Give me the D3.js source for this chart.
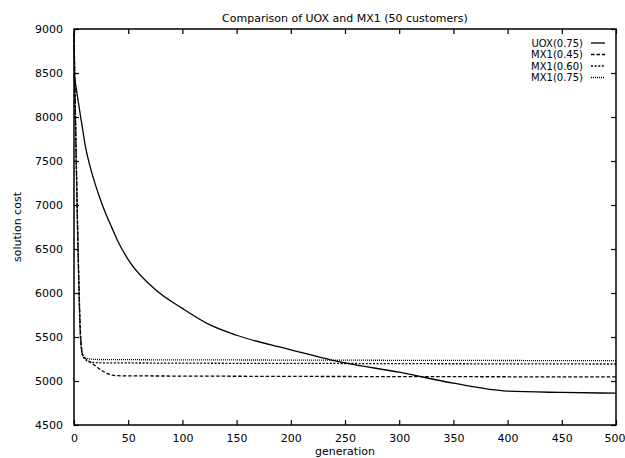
<!DOCTYPE html>
<html>
<head>
<meta charset="utf-8">
<script src="https://cdn.jsdelivr.net/npm/d3@7"></script>
<style>
	body { margin: 0; background: #fff; }
	text { font-family: "DejaVu Sans", sans-serif; font-size: 11px; fill: #000; }
</style>
</head>
<body>
<script>
	var generations = [0, 2, 4, 6, 8, 10, 15, 20, 25, 30, 35, 40, 50, 75, 100, 125, 150, 200, 250, 300, 350, 400, 450, 500];

	var uox075 = [8480, 8330, 8170, 8010, 7860, 7700, 7430, 7220, 7040, 6880, 6740, 6600, 6380, 6040, 5825, 5640, 5520, 5355, 5205, 5100, 4975, 4885, 4870, 4862];
	var mx1045 = [8950, 7600, 6400, 5550, 5300, 5262, 5215, 5170, 5125, 5090, 5068, 5060, 5058, 5057, 5056, 5055, 5054, 5052, 5051, 5050, 5049, 5048, 5047, 5047];
	var mx1060 = [8950, 7550, 6350, 5500, 5290, 5250, 5215, 5208, 5206, 5205, 5205, 5205, 5205, 5204, 5203, 5202, 5201, 5200, 5199, 5197, 5196, 5195, 5194, 5193];
	var mx1075 = [8950, 7500, 6300, 5480, 5290, 5262, 5250, 5245, 5244, 5243, 5243, 5242, 5242, 5241, 5240, 5240, 5239, 5238, 5237, 5235, 5234, 5233, 5232, 5232];

	var seriesNames = ["UOX(0.75)", "MX1(0.45)", "MX1(0.60)", "MX1(0.75)"];
	var seriesValues = [uox075, mx1045, mx1060, mx1075];
	var dashes = [null, "3.5,2", "2,1.6", "1,1"];

	var xTicks = [0, 50, 100, 150, 200, 250, 300, 350, 400, 450, 500];
	var yTicks = [4500, 5000, 5500, 6000, 6500, 7000, 7500, 8000, 8500, 9000];

	var plotLeft = 74, plotRight = 616, plotTop = 29, plotBottom = 425;

	var svg = d3.select("body").append("svg")
		.attr("width", 625)
		.attr("height", 458);

	var x = d3.scaleLinear().domain([0, 500]).range([plotLeft, plotRight]);
	var y = d3.scaleLinear().domain([4500, 9000]).range([plotBottom, plotTop]);

	// curves
	var line = d3.line()
		.x(function(d, i) { return x(generations[i]); })
		.y(function(d) { return y(d); })
		.curve(d3.curveMonotoneX);

	svg.selectAll("path.series")
		.data(seriesValues)
		.enter()
		.append("path")
		.attr("class", "series")
		.attr("d", line)
		.attr("fill", "none")
		.attr("stroke", "#000")
		.attr("stroke-width", 1.3)
		.attr("stroke-dasharray", function(d, i) { return dashes[i]; });

	// inward ticks on every side, gnuplot style
	var tickLen = 5;
	var xAxis = svg.append("g").attr("transform", "translate(0," + plotBottom + ")")
		.call(d3.axisBottom(x).tickValues(xTicks).tickSizeInner(-tickLen).tickSizeOuter(0).tickPadding(9))
		.call(function(g) { g.select(".domain").remove(); });
	svg.append("g").attr("transform", "translate(0," + plotTop + ")")
		.call(d3.axisTop(x).tickValues(xTicks).tickSizeInner(-tickLen).tickSizeOuter(0).tickFormat(""))
		.call(function(g) { g.select(".domain").remove(); });
	svg.append("g").attr("transform", "translate(" + plotLeft + ",0)")
		.call(d3.axisLeft(y).tickValues(yTicks).tickFormat(d3.format("d")).tickSizeInner(-tickLen).tickSizeOuter(0).tickPadding(11))
		.call(function(g) { g.select(".domain").remove(); });
	svg.append("g").attr("transform", "translate(" + plotRight + ",0)")
		.call(d3.axisRight(y).tickValues(yTicks).tickSizeInner(-tickLen).tickSizeOuter(0).tickFormat(""))
		.call(function(g) { g.select(".domain").remove(); });

	svg.selectAll(".tick line").attr("stroke", "#000").attr("stroke-width", 1.2);
	svg.selectAll(".tick text").style("font-family", "DejaVu Sans, sans-serif").style("font-size", "11px");

	// last x label sits against the page edge, keep it inside
	xAxis.selectAll(".tick text")
		.filter(function(d) { return d === 500; })
		.attr("text-anchor", "end")
		.attr("x", 9);

	svg.append("rect")
		.attr("x", plotLeft)
		.attr("y", plotTop)
		.attr("width", plotRight - plotLeft)
		.attr("height", plotBottom - plotTop)
		.attr("fill", "none")
		.attr("stroke", "#000")
		.attr("stroke-width", 1.5);

	// titles
	svg.append("text")
		.attr("x", (plotLeft + plotRight) / 2)
		.attr("y", 22)
		.attr("text-anchor", "middle")
		.text("Comparison of UOX and MX1 (50 customers)");

	svg.append("text")
		.attr("x", (plotLeft + plotRight) / 2)
		.attr("y", 455)
		.attr("text-anchor", "middle")
		.text("generation");

	svg.append("text")
		.attr("transform", "translate(21," + ((plotTop + plotBottom) / 2) + ") rotate(-90)")
		.attr("text-anchor", "middle")
		.text("solution cost");

	// legend
	var legend = svg.selectAll("g.legend")
		.data(seriesNames)
		.enter()
		.append("g")
		.attr("class", "legend")
		.attr("transform", function(d, i) { return "translate(0," + (43 + i * 11.5) + ")"; });

	legend.append("text")
		.attr("x", 583)
		.attr("dy", "0.35em")
		.attr("text-anchor", "end")
		.style("font-size", "10px")
		.text(function(d) { return d; });

	legend.append("line")
		.attr("x1", 591)
		.attr("x2", 605)
		.attr("stroke", "#000")
		.attr("stroke-width", 1.3)
		.attr("stroke-dasharray", function(d, i) { return dashes[i]; });
</script>
</body>
</html>
